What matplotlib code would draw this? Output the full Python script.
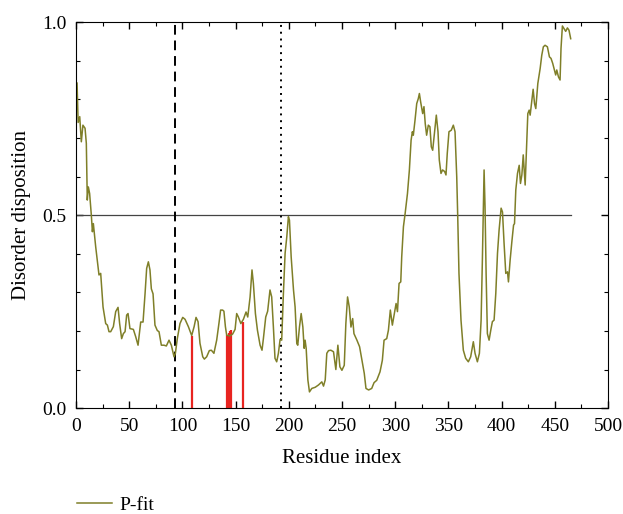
import numpy as np
import matplotlib
matplotlib.use("Agg")
import matplotlib.pyplot as plt
from matplotlib.ticker import MultipleLocator

plt.rcParams['font.family'] = ['Liberation Serif', 'DejaVu Serif']

# P-fit curve
residue = [1, 2, 3.5, 5, 6.5, 8.5, 9.7, 10.6, 11.6, 12.8, 14.4, 15.4, 16.3, 18.5, 21.6, 23.2, 25.4, 27.9,
           29.5, 31, 32.6, 35.1, 37.3, 39.5, 41, 42.9, 44.5, 46.1, 47.6, 48.9, 50.7, 53.9, 56.1, 58.3,
           60.8, 63, 64.9, 66.4, 68, 69.5, 70.8, 72.4, 74.2, 76.4, 78, 80.2, 82.7, 84.9, 87.4, 89.6,
           92.1, 93.4, 95.2, 97.7, 100.3, 102.5, 105.6, 108.7, 111, 112.8, 114.7, 116.5, 119.1, 120.6,
           122.8, 125.3, 127.2, 129.6, 132.2, 134.3, 135.9, 137.8, 139, 140.4, 141.6, 144.7, 147.2,
           149.5, 151, 152.6, 154.9, 157.3, 159.8, 161.4, 163.6, 165.4, 166.7, 168.6, 170.5, 173,
           174.8, 176.1, 178.3, 180.1, 182.3, 183.9, 185.5, 187, 188.6, 190.2, 191.8, 193.3, 194.9,
           196.5, 198.1, 199.6, 200.6, 202.2, 204.4, 205.9, 207.5, 208.4, 210, 211.6, 213.2, 214.4,
           215.3, 216.3, 217.9, 219.4, 221.6, 224.8, 227.9, 231, 232.6, 234.2, 235.7, 237.3, 239.5,
           242, 244.2, 246.1, 248, 249.9, 252.1, 253.6, 255.2, 256.8, 258.4, 260, 261.2, 264, 266.5,
           268.7, 270.9, 272.5, 275, 277.9, 280.1, 282.6, 285.7, 287.9, 289.5, 292, 293.6, 295.4,
           297.3, 299.2, 300.8, 302.1, 303.6, 305.2, 306.1, 307.7, 309.3, 311.5, 313.3, 314.9, 316.1,
           317, 318.6, 320.2, 321.7, 322.7, 323.9, 325.8, 327, 328.2, 329.5, 331.1, 332.6, 333.9,
           335.2, 337, 338.6, 340.2, 341.4, 343, 344.5, 346.4, 347.7, 348.9, 350.5, 352.7, 354.6,
           356.2, 357.8, 358.7, 359.9, 361.8, 364, 366.2, 368.7, 370.9, 373.4, 375, 377.2, 379.1,
           380.7, 381.9, 383.5, 384.4, 385.4, 386.6, 388.2, 389.8, 391.3, 392.9, 394.5, 396.1, 397.6,
           399.5, 400.8, 402.3, 403.9, 405.5, 406.4, 408, 409.6, 411.2, 412.1, 413.3, 414.9, 416.5,
           417.7, 419, 420.3, 422.1, 423.4, 424.6, 425.9, 426.8, 428.4, 429.6, 430.9, 432.1, 434,
           436.2, 437.7, 439.2, 440.8, 443, 444.9, 446.4, 448, 449.6, 450.8, 451.8, 453.4, 454.9,
           455.8, 457.1, 458.6, 460.2, 461.8, 463.3, 464.9]
disorder = [0.842, 0.74, 0.755, 0.69, 0.733, 0.725, 0.686, 0.539, 0.573, 0.556, 0.50, 0.457, 0.478, 0.418,
            0.345, 0.349, 0.262, 0.219, 0.215, 0.198, 0.198, 0.211, 0.25, 0.261, 0.219, 0.18, 0.193,
            0.198, 0.241, 0.245, 0.206, 0.204, 0.185, 0.163, 0.223, 0.223, 0.297, 0.362, 0.379, 0.358,
            0.309, 0.296, 0.215, 0.201, 0.198, 0.163, 0.163, 0.161, 0.176, 0.163, 0.133, 0.142, 0.18,
            0.219, 0.235, 0.23, 0.211, 0.188, 0.211, 0.235, 0.224, 0.168, 0.133, 0.127, 0.133, 0.149,
            0.15, 0.142, 0.176, 0.219, 0.254, 0.254, 0.251, 0.211, 0.189, 0.187, 0.192, 0.204, 0.245,
            0.236, 0.219, 0.23, 0.249, 0.236, 0.288, 0.358, 0.323, 0.245, 0.202, 0.163, 0.15, 0.18,
            0.236, 0.251, 0.306, 0.288, 0.21, 0.129, 0.12, 0.142, 0.178, 0.176, 0.297, 0.401, 0.444,
            0.496, 0.487, 0.392, 0.306, 0.262, 0.167, 0.163, 0.21, 0.245, 0.21, 0.155, 0.176, 0.155,
            0.073, 0.042, 0.051, 0.054, 0.06, 0.068, 0.057, 0.073, 0.142, 0.149, 0.15, 0.146, 0.1,
            0.163, 0.107, 0.098, 0.111, 0.219, 0.288, 0.262, 0.21, 0.232, 0.193, 0.176, 0.159, 0.125,
            0.09, 0.051, 0.047, 0.051, 0.066, 0.072, 0.094, 0.124, 0.176, 0.18, 0.202, 0.254, 0.215,
            0.245, 0.271, 0.25, 0.323, 0.327, 0.392, 0.47, 0.504, 0.556, 0.617, 0.694, 0.716, 0.707,
            0.746, 0.789, 0.802, 0.815, 0.793, 0.763, 0.781, 0.737, 0.707, 0.733, 0.729, 0.677, 0.668,
            0.716, 0.759, 0.716, 0.643, 0.608, 0.617, 0.613, 0.604, 0.66, 0.716, 0.72, 0.733, 0.716,
            0.599, 0.5, 0.349, 0.228, 0.15, 0.129, 0.12, 0.133, 0.172, 0.142, 0.12, 0.142, 0.228,
            0.384, 0.617, 0.521, 0.349, 0.193, 0.176, 0.202, 0.224, 0.228, 0.297, 0.401, 0.461, 0.518,
            0.508, 0.426, 0.349, 0.353, 0.327, 0.384, 0.431, 0.474, 0.478, 0.565, 0.608, 0.629, 0.582,
            0.604, 0.656, 0.578, 0.677, 0.763, 0.772, 0.759, 0.798, 0.826, 0.789, 0.776, 0.841, 0.88,
            0.914, 0.936, 0.94, 0.936, 0.91, 0.906, 0.893, 0.876, 0.863, 0.876, 0.858, 0.85, 0.932,
            0.99, 0.983, 0.976, 0.985, 0.979, 0.957]

# marked residues (red) and their heights
site_x = [109, 142, 143, 144, 145, 146, 157]
site_y = [0.188, 0.19, 0.19, 0.195, 0.2, 0.203, 0.222]

threshold = 0.5
seq_len = 465
dash_x = 93
dot_x = 193

fig = plt.figure(figsize=(6.23, 5.14), dpi=100)
ax = fig.add_axes([0.122, 0.206, 0.854, 0.751])

ax.plot([0, seq_len], [threshold, threshold], color='#444444', lw=0.9)
ax.axvline(dash_x, color='black', lw=1.4, ls=(0, (5, 3)))
ax.axvline(dot_x, color='black', lw=1.4, ls=(0, (1, 2.5)))
ax.vlines(site_x, 0, site_y, color='#e82420', lw=1.6)
ax.plot(residue, disorder, color='#7f7f28', lw=1.1, label='P-fit')

ax.set_xlim(0, 500)
ax.set_ylim(0, 1.0)
ax.xaxis.set_major_locator(MultipleLocator(50))
ax.xaxis.set_minor_locator(MultipleLocator(25))
ax.yaxis.set_major_locator(MultipleLocator(0.5))
ax.yaxis.set_minor_locator(MultipleLocator(0.1))
ax.yaxis.set_major_formatter(plt.FormatStrFormatter('%.1f'))
ax.tick_params(which='both', direction='in', top=True, right=True, labelsize=14)
ax.tick_params(which='major', length=5, width=1, pad=7)
ax.tick_params(which='minor', length=3, width=0.8)
ax.set_xlabel('Residue index', fontsize=15, labelpad=10)
ax.set_ylabel('Disorder disposition', fontsize=15, labelpad=8)

fig.legend(loc='center left', bbox_to_anchor=(0.095, 0.018), frameon=False,
           fontsize=14, handlelength=1.8, handletextpad=0.4)

plt.savefig('out.png', dpi=100)
